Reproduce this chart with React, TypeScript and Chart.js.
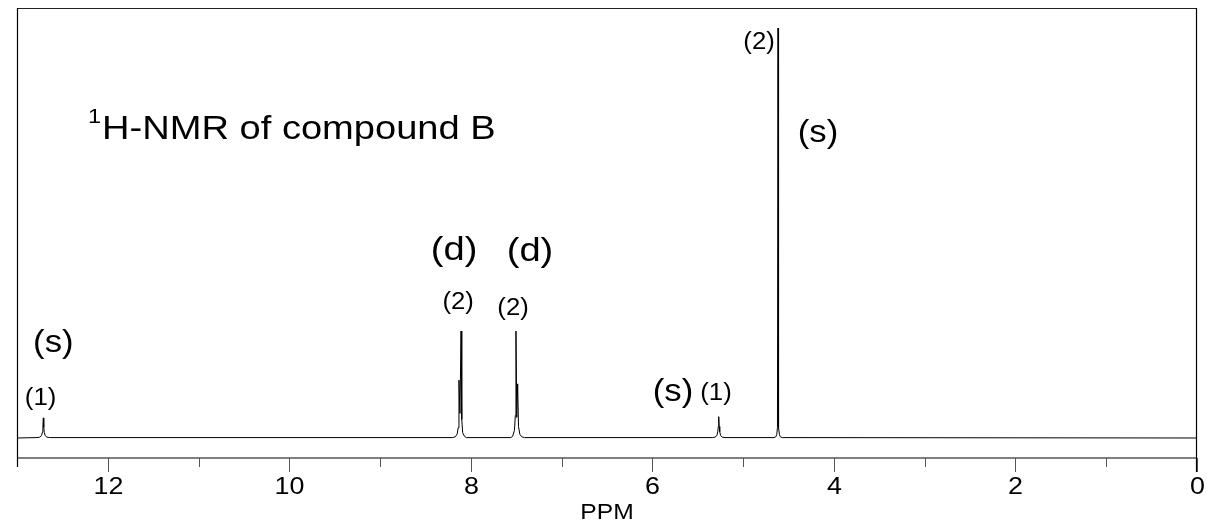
import React, { useEffect, useRef } from "react";
import { Chart, registerables } from "chart.js";

Chart.register(...registerables);

// Spectrum (chemical shift in ppm, relative intensity)
const PPM: number[] = [
  13.0,
  12.78, 12.75, 12.73, 12.72, 12.715, 12.71, 12.705, 12.70, 12.69, 12.67, 12.64,
  8.20, 8.17, 8.15, 8.14, 8.131, 8.12, 8.108, 8.10, 8.09, 8.07, 8.05,
  7.56, 7.54, 7.52, 7.51, 7.503, 7.494, 7.484, 7.475, 7.46, 7.44, 7.41,
  5.34, 5.31, 5.29, 5.28, 5.274, 5.269, 5.264, 5.258, 5.248, 5.23, 5.20,
  4.66, 4.64, 4.63, 4.622, 4.616, 4.61, 4.60, 4.59, 4.57,
  0.0,
];
const INTENSITY: number[] = [
  0.0,
  0.001, 0.002, 0.006, 0.014, 0.026, 0.049, 0.026, 0.014, 0.006, 0.002, 0.001,
  0.001, 0.003, 0.01, 0.025, 0.141, 0.06, 0.261, 0.045, 0.013, 0.004, 0.001,
  0.001, 0.004, 0.018, 0.055, 0.261, 0.05, 0.132, 0.028, 0.009, 0.003, 0.001,
  0.001, 0.002, 0.006, 0.015, 0.028, 0.052, 0.028, 0.015, 0.006, 0.002, 0.001,
  0.001, 0.003, 0.008, 0.025, 1.0, 0.025, 0.008, 0.003, 0.001,
  0.0,
];

// Axis ticks
const MAJOR_TICKS: number[] = [12, 10, 8, 6, 4, 2, 0];
const MINOR_TICKS: number[] = [13, 11, 9, 7, 5, 3, 1];
const X_TITLE = "PPM";

// Peak annotations: text, ppm, intensity level of text baseline
const ANN_TEXT: string[] = ["(s)", "(1)", "(d)", "(2)", "(d)", "(2)", "(s)", "(1)", "(2)", "(s)"];
const ANN_PPM: number[] = [12.6, 12.74, 8.185, 8.14, 7.348, 7.535, 5.773, 5.299, 4.825, 4.175];
const ANN_LEVEL: number[] = [0.21, 0.08, 0.434, 0.315, 0.432, 0.3, 0.091, 0.093, 0.95, 0.723];
const ANN_SIZE: number[] = [31, 23, 34, 23, 34, 23, 31, 23, 23, 31];

const TITLE_SUP = "1";
const TITLE_MAIN = "H-NMR of compound B";

const FONT = '"Liberation Sans", Arial, Helvetica, sans-serif';
const SX = 1.12;

function drawText(
  ctx: CanvasRenderingContext2D,
  s: string,
  x: number,
  y: number,
  size: number,
  align: CanvasTextAlign = "center"
) {
  ctx.save();
  ctx.font = `${size}px ${FONT}`;
  ctx.translate(x, y);
  ctx.scale(SX, 1);
  ctx.textAlign = align;
  ctx.textBaseline = "alphabetic";
  ctx.fillStyle = "#000";
  ctx.fillText(s, 0, 0);
  ctx.restore();
}

const framePlugin = {
  id: "nmrFrame",
  afterDraw(chart: any) {
    const ctx: CanvasRenderingContext2D = chart.ctx;
    const { left, right, top, bottom } = chart.chartArea;
    const xs = chart.scales.x;
    const ys = chart.scales.y;
    ctx.save();
    // bottom axis line
    ctx.strokeStyle = "#555";
    ctx.lineWidth = 1.5;
    ctx.beginPath();
    ctx.moveTo(left, bottom);
    ctx.lineTo(right, bottom);
    ctx.stroke();
    // ticks
    ctx.lineWidth = 1;
    ctx.strokeStyle = "#555";
    for (const v of MINOR_TICKS) {
      const px = Math.round(xs.getPixelForValue(v)) + 0.5;
      ctx.beginPath();
      ctx.moveTo(px, bottom);
      ctx.lineTo(px, bottom + 9);
      ctx.stroke();
    }
    for (const v of MAJOR_TICKS) {
      const px = Math.round(xs.getPixelForValue(v)) + 0.5;
      ctx.beginPath();
      ctx.moveTo(px, bottom);
      ctx.lineTo(px, bottom + 14);
      ctx.stroke();
      drawText(ctx, String(v), px, bottom + 36, 24);
    }
    // frame
    ctx.strokeStyle = "#222";
    ctx.lineWidth = 1.2;
    ctx.beginPath();
    ctx.moveTo(left, top + 0.5);
    ctx.lineTo(right, top + 0.5);
    ctx.stroke();
    ctx.strokeStyle = "#000";
    ctx.beginPath();
    ctx.moveTo(left + 0.5, top);
    ctx.lineTo(left + 0.5, bottom + 9);
    ctx.stroke();
    ctx.beginPath();
    ctx.moveTo(right - 0.5, top);
    ctx.lineTo(right - 0.5, bottom + 14);
    ctx.stroke();
    // axis title
    drawText(ctx, X_TITLE, (left + right) / 2, bottom + 60.5, 22);
    // annotations
    for (let i = 0; i < ANN_TEXT.length; i++) {
      drawText(
        ctx,
        ANN_TEXT[i],
        xs.getPixelForValue(ANN_PPM[i]),
        ys.getPixelForValue(ANN_LEVEL[i]),
        ANN_SIZE[i]
      );
    }
    // title
    const tx = left + 71;
    ctx.font = `21px ${FONT}`;
    const supW = ctx.measureText(TITLE_SUP).width * SX;
    drawText(ctx, TITLE_SUP, tx, top + 115, 21, "left");
    drawText(ctx, TITLE_MAIN, tx + supW + 1, top + 131, 34, "left");
    ctx.restore();
  },
};

export default function App() {
  const canvasRef = useRef<HTMLCanvasElement | null>(null);

  useEffect(() => {
    const canvas = canvasRef.current;
    if (!canvas) return;
    const data = PPM.map((p, i) => ({ x: p, y: INTENSITY[i] }));
    const chart = new Chart(canvas, {
      type: "line",
      data: {
        datasets: [
          {
            data,
            borderColor: "#000",
            borderWidth: 1,
            pointRadius: 0,
            tension: 0,
            fill: false,
          },
        ],
      },
      options: {
        animation: false,
        responsive: false,
        maintainAspectRatio: false,
        layout: { padding: { left: 17, right: 18, top: 8, bottom: 64 } },
        plugins: {
          legend: { display: false },
          tooltip: { enabled: false },
          title: { display: false },
        },
        scales: {
          x: { type: "linear", reverse: true, min: 0, max: 13, display: false },
          y: { type: "linear", min: -0.0488, max: 1.0488, display: false },
        },
      },
      plugins: [framePlugin],
    });
    return () => chart.destroy();
  }, []);

  return (
    <div style={{ position: "absolute", left: 0, top: 0, width: 1215, height: 522, background: "#fff" }}>
      <canvas ref={canvasRef} width={1215} height={522} style={{ display: "block" }} />
    </div>
  );
}
